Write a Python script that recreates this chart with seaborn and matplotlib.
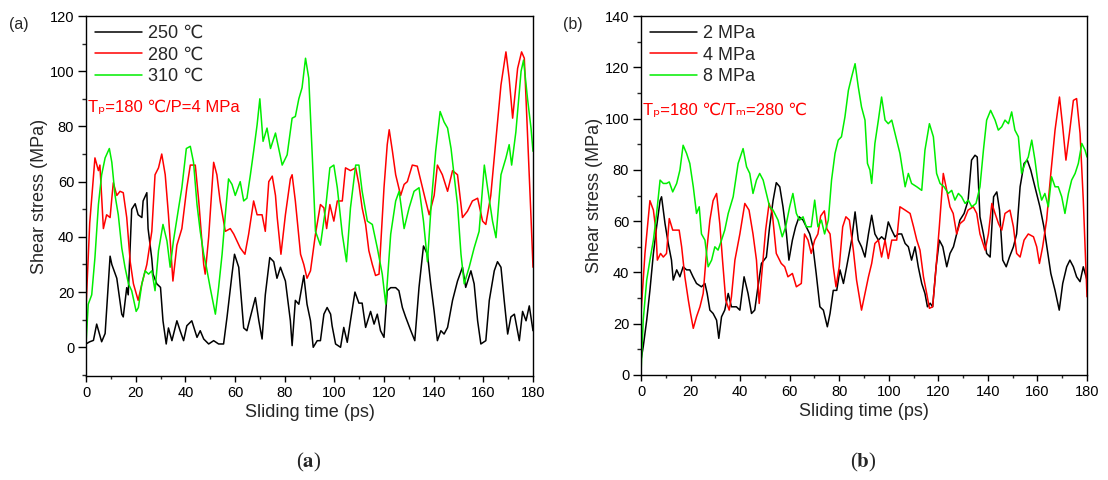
import pandas as pd
import matplotlib.pyplot as plt
import seaborn as sns
from matplotlib.ticker import MultipleLocator

# ---- panel (a): different melt temperatures ----
t_a250 = [0, 1.5, 3, 4.3, 6.3, 7.7, 9.7, 10.4, 12.4, 14.4, 15, 16.4, 17, 18.4, 19.8, 21, 22.5, 23, 24.5, 25,
          26.5, 27, 28.5, 30, 31, 32.3, 33.2, 34.6, 36.6, 37.9, 39.3, 40.6, 42.6, 44.7, 46, 47.4, 49.4, 51.4,
          53.4, 55.4, 56.8, 58.8, 59.8, 61.5, 63.5, 64.8, 66.2, 68.2, 69.6, 70.9, 72.2, 74, 75.6, 76.9, 78.3,
          80.3, 82.3, 83, 84.3, 85.7, 87.7, 89, 90.4, 91.5, 93.1, 94.4, 95.8, 97.1, 98.5, 99.1, 100.5, 102.5,
          103.8, 105.2, 106.5, 108.3, 109.9, 111.2, 112.6, 114.6, 116, 117.3, 118.6, 120, 121.3, 122.7, 124.7,
          126, 127.4, 128.7, 130.8, 132.4, 134.1, 135.9, 137.5, 138.8, 140.2, 141.5, 142.9, 144.2, 145.6,
          147.6, 149.6, 151.6, 152.9, 155, 156.3, 157.7, 159, 161, 162.4, 164.4, 165.7, 167.1, 168.4, 169.8,
          171.1, 172.5, 174.5, 175.8, 177.2, 178.5, 180]
s_a250 = [1.2, 2, 2.5, 8.4, 2, 5, 33, 30, 25, 12, 11, 21.6, 19, 50, 52, 48, 47, 53, 56, 43,
          32, 26.5, 23, 21.7, 9.6, 1.2, 7, 2.4, 9.6, 6, 2.4, 7.8, 9.6, 3.6, 6, 3, 1.2, 2.4,
          1.2, 1.2, 11, 26.5, 33.7, 29, 7, 6, 11, 18, 9.6, 3, 19, 32.5, 31, 25, 29,
          24, 9.6, 0.6, 17, 15.6, 26, 15.6, 9.6, 0, 2.4, 2.4, 12, 14.4, 12, 7.8, 1.2, 0,
          7.2, 1.8, 9.6, 20, 16, 16, 7.2, 13, 8.4, 12, 6, 3.6, 20.5, 21.6, 21.6,
          20.5, 14.4, 11, 6, 2.4, 21.7, 36.7, 33.7, 23, 13, 2.4, 6, 4.8, 7.2,
          17, 24, 29, 21.7, 27.7, 23, 9.6, 1.2, 2.4, 17, 27.7, 31, 29, 17, 4.8,
          11, 12, 2.4, 13, 9.6, 15, 6]

t_a280 = [0, 1.5, 3.6, 5, 5.6, 7, 8.3, 9.7, 10.4, 11, 12.4, 13.7, 15, 16.4, 17.8, 19.1, 21, 22.5, 24.5,
          26.5, 27.8, 29.2, 30.5, 31.9, 33.2, 35, 36.6, 38.6, 40.6, 42, 44, 45.4, 47.4, 48, 49.4, 51.4, 52.7,
          54, 56.1, 58.1, 59.5, 60.8, 62.1, 64, 65.5, 67.5, 68.9, 70.9, 72.2, 73.6, 75, 76.3, 77, 78.5, 80.3,
          82.3, 83, 84.3, 86.4, 87.7, 89, 90.4, 92.4, 94.4, 95.8, 96.9, 98.2, 99.8, 101.2, 103.2, 104.5,
          106.5, 108.6, 109.9, 111.2, 112.6, 113.9, 115.3, 116.6, 118, 120, 121.3, 122.1, 123.4, 124.7,
          126.7, 128.1, 129.4, 131.4, 133.4, 135.5, 136.8, 138.2, 140.2, 141.5, 143.5, 145.6, 147.6, 149.6,
          151.6, 153.6, 155.6, 157.7, 159.7, 161, 163, 165, 167.1, 169.1, 170.4, 171.8, 173.8, 175.4, 176.5,
          177.8, 179.2, 180]
s_a280 = [14, 45, 68.6, 64, 66, 43, 48, 47, 54, 59.6, 55, 56.5, 56, 47, 31, 23, 17, 23, 30,
          42, 62.5, 65, 70, 62.5, 48, 24, 37, 43, 57.8, 66, 66, 53, 30, 26.5, 40, 67, 62.5,
          53, 42, 43, 41, 38.5, 36, 33.7, 41, 53, 48, 48, 42, 60, 62, 55, 47, 33.7, 48,
          61, 62.5, 53, 33.7, 30, 25, 27.7, 41, 51.7, 50.5, 43, 51.7, 45.7, 53, 53, 65,
          64, 65, 59, 50.5, 44.5, 35, 30, 26, 26.5, 57.8, 73.4, 78.8, 71, 62.5,
          55, 59, 60, 66, 65.6, 57.8, 53, 48, 55, 66, 62.5, 56.5, 64, 62.5,
          47, 49.3, 53, 54, 45.7, 44.5, 55, 74.6, 95, 107, 97.5, 83, 101, 107, 104.7,
          77, 47, 29]

t_a310 = [0, 0.9, 2.3, 3.6, 5, 6.3, 7.7, 9.4, 10.4, 11.7, 13, 14.4, 15.7, 17.1, 18.4, 20.2, 21.1, 22.5,
          23.8, 25.2, 26.5, 27.8, 29.2, 31, 32.6, 33.9, 35.2, 37.3, 38.6, 40.4, 42, 43.3, 44.7, 46, 47.4,
          48.5, 50, 52.1, 53.4, 54.8, 56.1, 57.4, 58.8, 60.1, 62.1, 63.5, 64.8, 66.2, 67.5, 68.9, 70, 71.3,
          72.9, 74.3, 76.3, 77.6, 79, 81, 83, 84.3, 85.7, 87, 88.4, 89.7, 91.1, 92.4, 94.4, 96.5, 98.2,
          99.8, 101.2, 103.2, 104.9, 106.5, 108.6, 109.9, 111.2, 113.3, 115.3, 117.3, 119.3, 120.7, 122.7,
          124.7, 126.1, 128.1, 130.1, 132.1, 134.1, 135.9, 137.5, 139.1, 140.8, 142.6, 144.2, 145.6, 147,
          148.2, 149.6, 151, 152.3, 154.3, 156.3, 158.3, 160.4, 161.7, 163.7, 165.1, 167.1, 169.1, 170.4,
          171.4, 173.1, 175.2, 176.2, 177.8, 179.2, 180]
s_a310 = [1.2, 15.6, 19, 32.5, 51.7, 62.5, 68.6, 72, 67, 55, 48, 36, 29, 23, 20.5, 13, 14.4, 23,
          27.7, 26.5, 27.7, 20.5, 35, 44.5, 38.5, 29, 38.5, 50.5, 57.8, 72, 72.8, 67, 51.7, 42, 33.7,
          29, 21.6, 12, 21.6, 33.7, 48, 61, 59, 55, 60, 53, 54, 62.5, 71, 80.6, 90, 74.6,
          79.4, 72, 77.6, 72, 66, 69.7, 83, 83.6, 90, 94, 104.7, 97.5, 69.7, 42, 37, 50.5, 65,
          66, 57.8, 41, 31, 50.5, 66, 66, 56.5, 45.7, 44.5, 36, 26.5, 15.6, 41,
          53, 56.5, 43, 50.5, 56.5, 57.8, 45.7, 31, 53, 71, 85.4, 81.6, 79.4, 72,
          62.5, 51.7, 33.7, 23, 29, 36, 42, 66, 57.8, 45.7, 39.7, 62.5, 68.6, 73.4,
          66, 78, 100, 104, 90, 79.4, 71]

# ---- panel (b): different pressures ----
t_b2 = [0, 0.9, 2.3, 3.6, 5, 6.3, 7.7, 8.3, 9.7, 11, 12.3, 13, 14.4, 15.7, 17, 18.4, 19.7, 21, 22.4, 24.4,
        25.8, 26.7, 27.8, 29.1, 30.5, 31.4, 32.5, 33.8, 35.2, 36.5, 38.5, 39.9, 41.6, 43.2, 44.6, 45.9, 47.2,
        48.6, 50.6, 51.9, 53.3, 54.6, 56, 57.3, 58.7, 59.7, 61.1, 62.4, 63.8, 65.4, 66.7, 68.1, 69.4, 70.7,
        72.2, 73.6, 75.2, 76.3, 77.6, 79, 80.3, 81.7, 83, 85, 86.4, 87.7, 89, 90.4, 91.8, 93.1, 94.4, 95.8,
        97.1, 98.5, 99.8, 101.2, 102.5, 103.9, 105.2, 106.6, 107.9, 109.2, 110.6, 111.9, 113.3, 114.6,
        115.6, 116.7, 117.7, 119.1, 120.4, 121.8, 123.4, 124.7, 126.1, 127.4, 128.7, 130.4, 132, 133.4,
        134.8, 135.7, 136.8, 138.2, 139.5, 140.9, 142.3, 143.6, 144.7, 146, 147.4, 148.7, 150.3, 151.6,
        153, 154.6, 155.9, 157.3, 159, 161, 162.6, 164, 165.4, 167.1, 168.8, 170.2, 171.8, 173.1, 174.5,
        175.8, 177.2, 178.5, 180]
s_b2 = [5.8, 11, 21.4, 33, 47.4, 57.8, 68, 69.5, 59, 51.3, 44.8, 37, 41, 38.3, 42.2, 41, 41, 38.3, 35.7, 34.4,
        35.7, 31.8, 25.3, 24, 21.4, 14.3, 22.7, 25.3, 31.8, 26.6, 26.6, 25.3, 38.3, 31.8, 24, 25.3, 34.4,
        43.5, 46, 57.8, 68, 75, 73.4, 65.6, 55, 44.8, 52.6, 57.8, 61.7, 60.4, 57.8, 55, 50, 39.6,
        26.6, 25.3, 18.8, 24, 33, 33, 41, 35.7, 42.2, 52.6, 63.6, 52.6, 50, 46, 55, 62.3, 55, 52.6,
        53.9, 52.6, 59.7, 56.5, 53.9, 55, 55, 51.3, 50, 44.8, 50, 42.2, 35.7, 31.8,
        26.6, 28, 26.6, 42.2, 52.6, 50, 42.2, 47.4, 50, 55, 60.4, 63, 68, 83.8,
        85.7, 85, 61.7, 55, 47.4, 46, 69.5, 71.4, 64.3, 44.8, 42.2, 46, 50, 55,
        73.4, 82.5, 83.8, 79.9, 73.4, 65.6, 57.8, 48.7, 39.6, 33, 25.3, 35.7, 42.2, 44.8, 42.2,
        38.3, 36.4, 42.2, 37]

t_b4 = [0, 1.6, 3, 3.6, 5, 6, 6.6, 7.9, 9, 10.3, 11.4, 12.8, 14.1, 15.4, 16.4, 17.7, 19.1, 20, 21.1, 22.4,
        23.8, 25.1, 26.4, 27.8, 29.1, 30.5, 31.8, 32.9, 34.2, 35.6, 36.5, 37.9, 39.9, 41.9, 43.6, 45.2, 46.6,
        47.7, 49, 50.3, 51.7, 53, 54.6, 56.6, 58, 59.3, 61.1, 62.7, 64.7, 66, 67.4, 68.7, 70.1, 71.4, 72.5,
        74, 75, 76.3, 77.6, 78.7, 80, 81.4, 82.7, 84.1, 85.7, 87, 88.1, 89, 90.4, 91.8, 93.1, 94.4, 95.8,
        97.1, 98.5, 99.8, 101.2, 103.2, 104.5, 106.6, 108.6, 110, 111.3, 112.6, 114, 115.3, 116.4, 117.7,
        119.1, 120.4, 122, 123.1, 124.7, 126, 127.4, 128.7, 130.4, 132, 134.1, 135.5, 136.8, 138.9, 140.2,
        141.6, 142.9, 144.3, 145.6, 146.9, 148.9, 150.3, 151.6, 153, 154.6, 156.3, 158.4, 159.7, 160.8,
        162.1, 163.7, 165.4, 167.1, 168.9, 170.2, 171.5, 172.9, 174.5, 175.8, 177.2, 178.5, 180]
s_b4 = [24, 47.4, 61.7, 68, 64.3, 56.5, 44.8, 47.4, 46, 47.4, 61, 56.5, 56.5, 56.5, 50, 38.3, 29.2, 24, 18.2, 22.7,
        26.6, 31.8, 47.4, 60.4, 68, 70.8, 59, 44.8, 29.2, 25.3, 30.5, 44.8, 55, 66.9, 64.3, 55, 44.8,
        27.9, 42.2, 56.5, 66.9, 63, 47.4, 43.5, 42.2, 38.3, 39.6, 34.4, 35.7, 55, 52.6, 47.4, 52.6, 55, 62,
        64, 57, 55, 42.2, 34.4, 42.2, 57.8, 61.7, 60.4, 48.7, 37, 30.5, 25.3, 31.8, 38.3, 43.5, 51.3, 52.6,
        46, 52.6, 45.4, 52.6, 52.6, 65.6, 64.3, 63, 57.8, 52.6, 48.7, 38.3, 31.8, 26, 26.6,
        42.2, 57.8, 78.6, 73.4, 65.6, 63, 55, 59, 60.4, 64.3, 65.6, 63, 55, 48.7, 55,
        66.9, 63, 59, 56.5, 63, 64.3, 57.8, 47.4, 46, 52.6, 55, 53.9, 50, 43.5,
        50, 60.4, 78.6, 95.5, 108.4, 96.8, 83.8, 94.2, 107.1, 107.8, 94.2, 68.2, 30.5]

t_b8 = [0, 0.9, 2.3, 3.6, 5, 6.3, 7.7, 9, 10.3, 11.4, 12.8, 14.4, 15.7, 17, 18.4, 19.7, 21.1, 22.4, 23.5,
        24.4, 25.8, 27.1, 28.5, 29.8, 31.1, 32.5, 33.8, 35.2, 37.2, 39.2, 41.2, 42.6, 43.9, 45.2, 46.6, 47.9,
        49.3, 50.6, 51.9, 53.3, 55.3, 57, 58.4, 60, 61.3, 62.7, 64, 65.4, 66.7, 68.7, 70.1, 71.4, 72.8, 74.1,
        75.6, 76.9, 78.3, 79.6, 80.9, 82.3, 83.7, 85, 86.4, 87.7, 89, 90.4, 91.4, 92.4, 93.1, 94.4, 95.8,
        97.1, 98.5, 99.8, 101.2, 103.2, 104.5, 106.6, 107.9, 109.2, 111.3, 113.3, 114.6, 116.4, 118, 119.3,
        120.7, 122.3, 124, 125.4, 126.7, 128.1, 129.4, 130.8, 132.1, 133.5, 135.2, 136.8, 138.2, 139.5,
        141.1, 142.9, 144.2, 145.6, 146.9, 148.3, 149.6, 150.9, 152.3, 153.6, 155, 156.3, 157.7, 159,
        160.4, 161.7, 163, 164.4, 165.7, 167.1, 168.4, 169.8, 171.1, 172.5, 173.8, 175.2, 176.5, 177.9,
        179.2, 180]
s_b8 = [0.6, 21.4, 37, 44.8, 52.6, 63, 76, 74.7, 74.7, 75.3, 71.4, 74.7, 79.9, 89.6, 86.4, 82.5, 73.4, 63, 65.6,
        55, 52.6, 42.2, 44.8, 50, 48.7, 52.6, 56.5, 63, 69.5, 82.5, 88.3, 81.2, 78.6, 70.8, 76, 78.6,
        76, 70.8, 65.6, 64.3, 60.4, 53.9, 57.8, 65.6, 70.8, 63, 60.4, 61.7, 57.8, 57.8, 68.2, 57.8, 60.4, 55,
        60.4, 76, 86.4, 91.6, 92.9, 100.6, 111, 116.2, 121.4, 112.3, 104.5, 99.4, 82.5, 79.9, 74.7, 90.3, 99.4,
        108.4, 99.4, 98, 99.4, 91.6, 86.4, 73.4, 78.6, 74.7, 73.4, 72, 87.7, 98, 92.9, 78.6,
        74.7, 73.4, 70.8, 72, 68.2, 70.8, 69.5, 66.9, 68.2, 65.6, 66.9, 73.4, 87.7, 99.4,
        103.2, 99.4, 95.5, 96.8, 99.4, 98, 102.6, 95.5, 92.9, 78.6, 82.5, 85, 91.6, 83.8,
        73.4, 68.2, 70.8, 65.6, 77.3, 73.4, 73.4, 69.5, 63, 70.8, 76, 78.6, 82.5, 90.3,
        87.7, 85]

labels_a = ['250 ℃', '280 ℃', '310 ℃']
labels_b = ['2 MPa', '4 MPa', '8 MPa']
colors = ['#000000', '#ff0000', '#00ee00']


def long_df(ts, ss, labels):
    parts = [pd.DataFrame({'t': t, 's': s, 'series': lab}) for t, s, lab in zip(ts, ss, labels)]
    return pd.concat(parts, ignore_index=True)


sns.set_theme(style='ticks')
plt.rcParams['font.family'] = ['Liberation Sans', 'DejaVu Sans']
plt.rcParams['axes.linewidth'] = 1.0

fig = plt.figure(figsize=(11.08, 4.8), dpi=100)
ax1 = fig.add_axes([86 / 1108, 1 - 376 / 480, 447 / 1108, 360 / 480])
ax2 = fig.add_axes([641 / 1108, 1 - 375 / 480, 446 / 1108, 359 / 480])

df_a = long_df([t_a250, t_a280, t_a310], [s_a250, s_a280, s_a310], labels_a)
df_b = long_df([t_b2, t_b4, t_b8], [s_b2, s_b4, s_b8], labels_b)

sns.lineplot(data=df_a, x='t', y='s', hue='series', palette=colors, estimator=None,
             sort=False, lw=1.1, ax=ax1)
sns.lineplot(data=df_b, x='t', y='s', hue='series', palette=colors, estimator=None,
             sort=False, lw=1.1, ax=ax2)

for ax, ylim in [(ax1, (-10.4, 120)), (ax2, (0, 140))]:
    ax.set_xlim(0, 180)
    ax.set_ylim(*ylim)
    ax.xaxis.set_major_locator(MultipleLocator(20))
    ax.xaxis.set_minor_locator(MultipleLocator(10))
    ax.yaxis.set_major_locator(MultipleLocator(20))
    ax.yaxis.set_minor_locator(MultipleLocator(10))
    ax.tick_params(axis='both', which='major', labelsize=10.5, width=1.0, direction='out',
                   top=False, right=False, colors='black')
    ax.tick_params(axis='x', which='major', length=4.3, pad=3)
    ax.tick_params(axis='y', which='major', length=5.5, pad=3)
    ax.tick_params(axis='x', which='minor', length=2.5, width=1.0, bottom=True)
    ax.tick_params(axis='y', which='minor', length=3, width=1.0, left=True)
    for sp in ax.spines.values():
        sp.set_visible(True)
        sp.set_color('black')
        sp.set_linewidth(1.0)
    ax.set_xlabel('Sliding time (ps)', fontsize=13, labelpad=3)
    ax.set_ylabel('Shear stress (MPa)', fontsize=13, labelpad=1)
    ax.set_facecolor('white')

ax1.set_yticks([0, 20, 40, 60, 80, 100, 120])

for ax in (ax1, ax2):
    h, l = ax.get_legend_handles_labels()
    ax.legend(h, l, loc='upper left', frameon=False, fontsize=13, handlelength=2.6,
              handletextpad=0.35, labelspacing=0.25, borderaxespad=0.2, borderpad=0.3)

ax1.text(0.004, 0.745, 'Tₚ=180 ℃/P=4 MPa', transform=ax1.transAxes, color='#ff0000',
         fontsize=12, va='center', ha='left')
ax2.text(0.004, 0.738, 'Tₚ=180 ℃/Tₘ=280 ℃', transform=ax2.transAxes, color='#ff0000',
         fontsize=12, va='center', ha='left')

fig.text(9 / 1108, 1 - 25 / 480, '(a)', fontsize=11.5, va='center', ha='left')
fig.text(563 / 1108, 1 - 25 / 480, '(b)', fontsize=11.5, va='center', ha='left')

for x, letter in [(309, 'a'), (863, 'b')]:
    fig.text(x / 1108, 1 - 462 / 480, '(' + r'$\mathbf{' + letter + '}$' + ')', fontsize=15,
             family='Liberation Serif', math_fontfamily='stix', va='center', ha='center')

fig.patch.set_facecolor('white')
fig.savefig('out.png', dpi=100, facecolor='white')
